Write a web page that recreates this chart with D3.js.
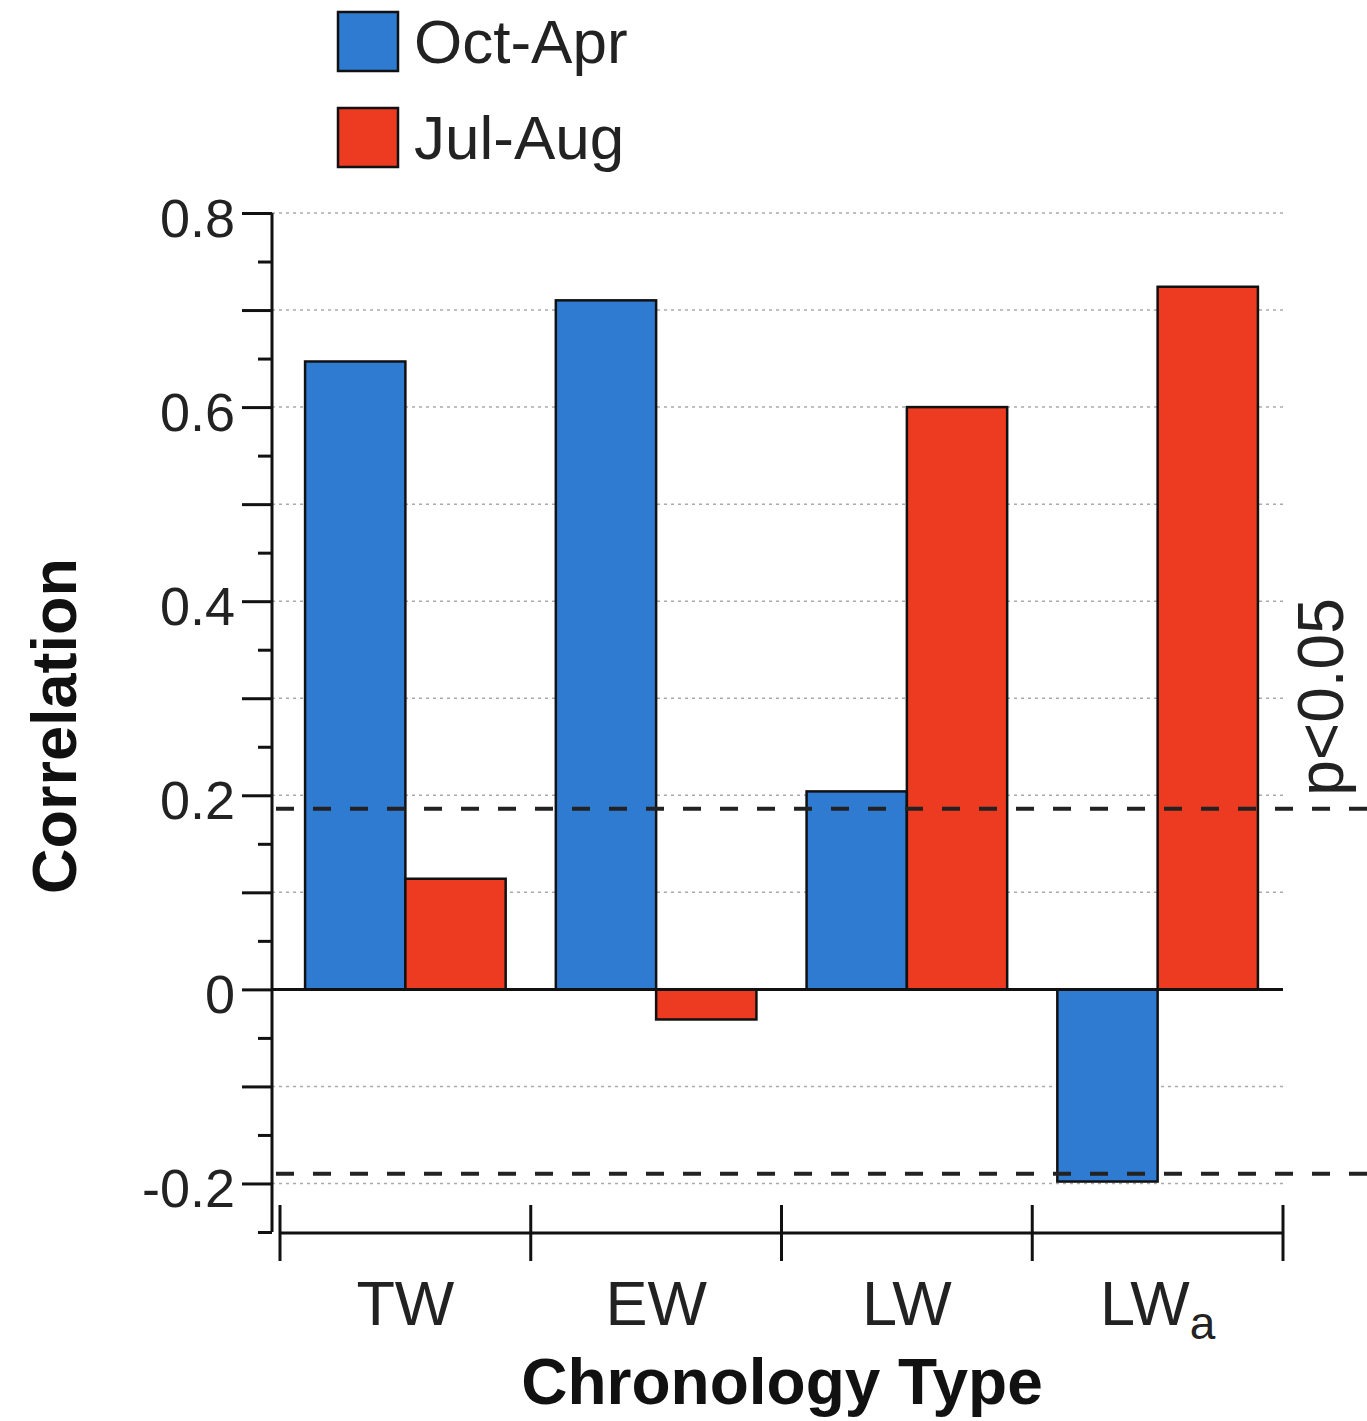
<!DOCTYPE html>
<html><head><meta charset="utf-8">
<script src="https://cdn.jsdelivr.net/npm/d3@7"></script>
<style>body{margin:0;background:#fff}svg{display:block;font-family:"Liberation Sans",Arial,sans-serif}</style>
</head><body>
<script>
const categories = ["TW","EW","LW","LWa"];
const seriesNames = ["Oct-Apr","Jul-Aug"];
const octApr = [0.647, 0.710, 0.204, -0.198];
const julAug = [0.114, -0.031, 0.600, 0.724];
const seriesColors = ["#2F7BD2","#EC3B20"];
const sigLevels = [0.186, -0.190];
const yTickLabels = [-0.2, 0, 0.2, 0.4, 0.6, 0.8];

const W = 1367, H = 1421;
const svg = d3.select("body").append("svg").attr("width", W).attr("height", H);

const y = d3.scaleLinear().domain([-0.25, 0.8]).range([1232, 213]);
const x = d3.scaleBand().domain(categories).range([280, 1283]).padding(0);
const xs = d3.scaleBand().domain(seriesNames).range([0, x.bandwidth()]).paddingInner(0).paddingOuter(0.25);
const yAxisX = 272;

// gridlines (dotted) every 0.1 except 0
const gridVals = d3.range(-2, 9).map(d => d / 10).filter(d => d !== 0);
svg.append("g").selectAll("line").data(gridVals).join("line")
  .attr("x1", yAxisX).attr("x2", 1283)
  .attr("y1", d => y(d)).attr("y2", d => y(d))
  .attr("stroke", "#aaa").attr("stroke-width", 1.5).attr("stroke-dasharray", "3,4");

// bars
const data = [];
categories.forEach((c, i) => {
  data.push({cat: c, s: seriesNames[0], v: octApr[i], col: seriesColors[0]});
  data.push({cat: c, s: seriesNames[1], v: julAug[i], col: seriesColors[1]});
});
svg.append("g").selectAll("rect").data(data).join("rect")
  .attr("x", d => x(d.cat) + xs(d.s))
  .attr("width", xs.bandwidth())
  .attr("y", d => y(Math.max(0, d.v)))
  .attr("height", d => Math.abs(y(d.v) - y(0)))
  .attr("fill", d => d.col).attr("stroke", "#111").attr("stroke-width", 2.5);

// zero line
svg.append("line").attr("x1", yAxisX).attr("x2", 1283).attr("y1", y(0)).attr("y2", y(0))
  .attr("stroke", "#111").attr("stroke-width", 3);

// significance dashed lines
svg.append("g").selectAll("line").data(sigLevels).join("line")
  .attr("x1", yAxisX + 4).attr("x2", W)
  .attr("y1", d => y(d)).attr("y2", d => y(d))
  .attr("stroke", "#222").attr("stroke-width", 4).attr("stroke-dasharray", "18,19");

// y axis
const majorVals = d3.range(-2, 9).map(d => d / 10);
const minorVals = d3.range(-5, 16, 2).map(d => d / 20);
const fmt = d => yTickLabels.some(t => Math.abs(t - d) < 1e-9) ? (Math.abs(d) < 1e-9 ? "0" : d.toFixed(1)) : "";
const yAxisG = svg.append("g").attr("transform", `translate(${yAxisX},0)`);
yAxisG.call(d3.axisLeft(y).tickValues(majorVals).tickSize(30).tickFormat(fmt))
  .call(g => g.select(".domain").attr("d", `M0,${y(0.8)}V${y(-0.25)}`).attr("stroke", "#111").attr("stroke-width", 3))
  .call(g => g.selectAll(".tick line").attr("stroke", "#111").attr("stroke-width", 3))
  .call(g => g.selectAll(".tick text").attr("font-size", 54).attr("fill", "#222").attr("x", -37).attr("dy", "0.43em"));
const yMinorG = svg.append("g").attr("transform", `translate(${yAxisX},0)`);
yMinorG.call(d3.axisLeft(y).tickValues(minorVals).tickSize(14).tickFormat(""))
  .call(g => g.select(".domain").remove())
  .call(g => g.selectAll(".tick line").attr("stroke", "#111").attr("stroke-width", 3));

// x axis
const xAxisY = 1233;
const boundaries = categories.map(c => x(c)).concat([x.range()[1]]);
const xg = svg.append("g");
xg.append("line").attr("x1", boundaries[0]).attr("x2", boundaries[4]).attr("y1", xAxisY).attr("y2", xAxisY)
  .attr("stroke", "#111").attr("stroke-width", 3);
xg.selectAll("line.t").data(boundaries).join("line").attr("class", "t")
  .attr("x1", d => d).attr("x2", d => d).attr("y1", xAxisY - 28).attr("y2", xAxisY + 28)
  .attr("stroke", "#111").attr("stroke-width", 3);
const labs = xg.selectAll("text").data(categories).join("text")
  .attr("x", d => x(d) + x.bandwidth() / 2).attr("y", 1325)
  .attr("text-anchor", "middle").attr("font-size", 63).attr("fill", "#222");
labs.each(function(d) {
  const t = d3.select(this);
  if (d === "LWa") {
    t.append("tspan").text("LW");
    t.append("tspan").text("a").attr("font-size", 46).attr("dy", 14);
  } else t.text(d);
});

// axis titles
svg.append("text").attr("x", 782).attr("y", 1404).attr("text-anchor", "middle")
  .attr("font-size", 64).attr("font-weight", "bold").attr("fill", "#111").text("Chronology Type");
svg.append("text").attr("transform", "translate(76,726) rotate(-90)").attr("text-anchor", "middle")
  .attr("font-size", 63).attr("font-weight", "bold").attr("fill", "#111").text("Correlation");

// p<0.05
svg.append("text").attr("transform", "translate(1343,697) rotate(-90)").attr("text-anchor", "middle")
  .attr("font-size", 64).attr("fill", "#222").text("p<0.05");

// legend
const leg = svg.append("g").selectAll("g").data(seriesNames).join("g")
  .attr("transform", (d, i) => `translate(338,${12 + i * 96})`);
leg.append("rect").attr("width", 60).attr("height", 59)
  .attr("fill", (d, i) => seriesColors[i]).attr("stroke", "#111").attr("stroke-width", 2.5);
leg.append("text").attr("x", 76).attr("y", 51).attr("font-size", 62).attr("fill", "#222").text(d => d);
</script>
</body></html>
